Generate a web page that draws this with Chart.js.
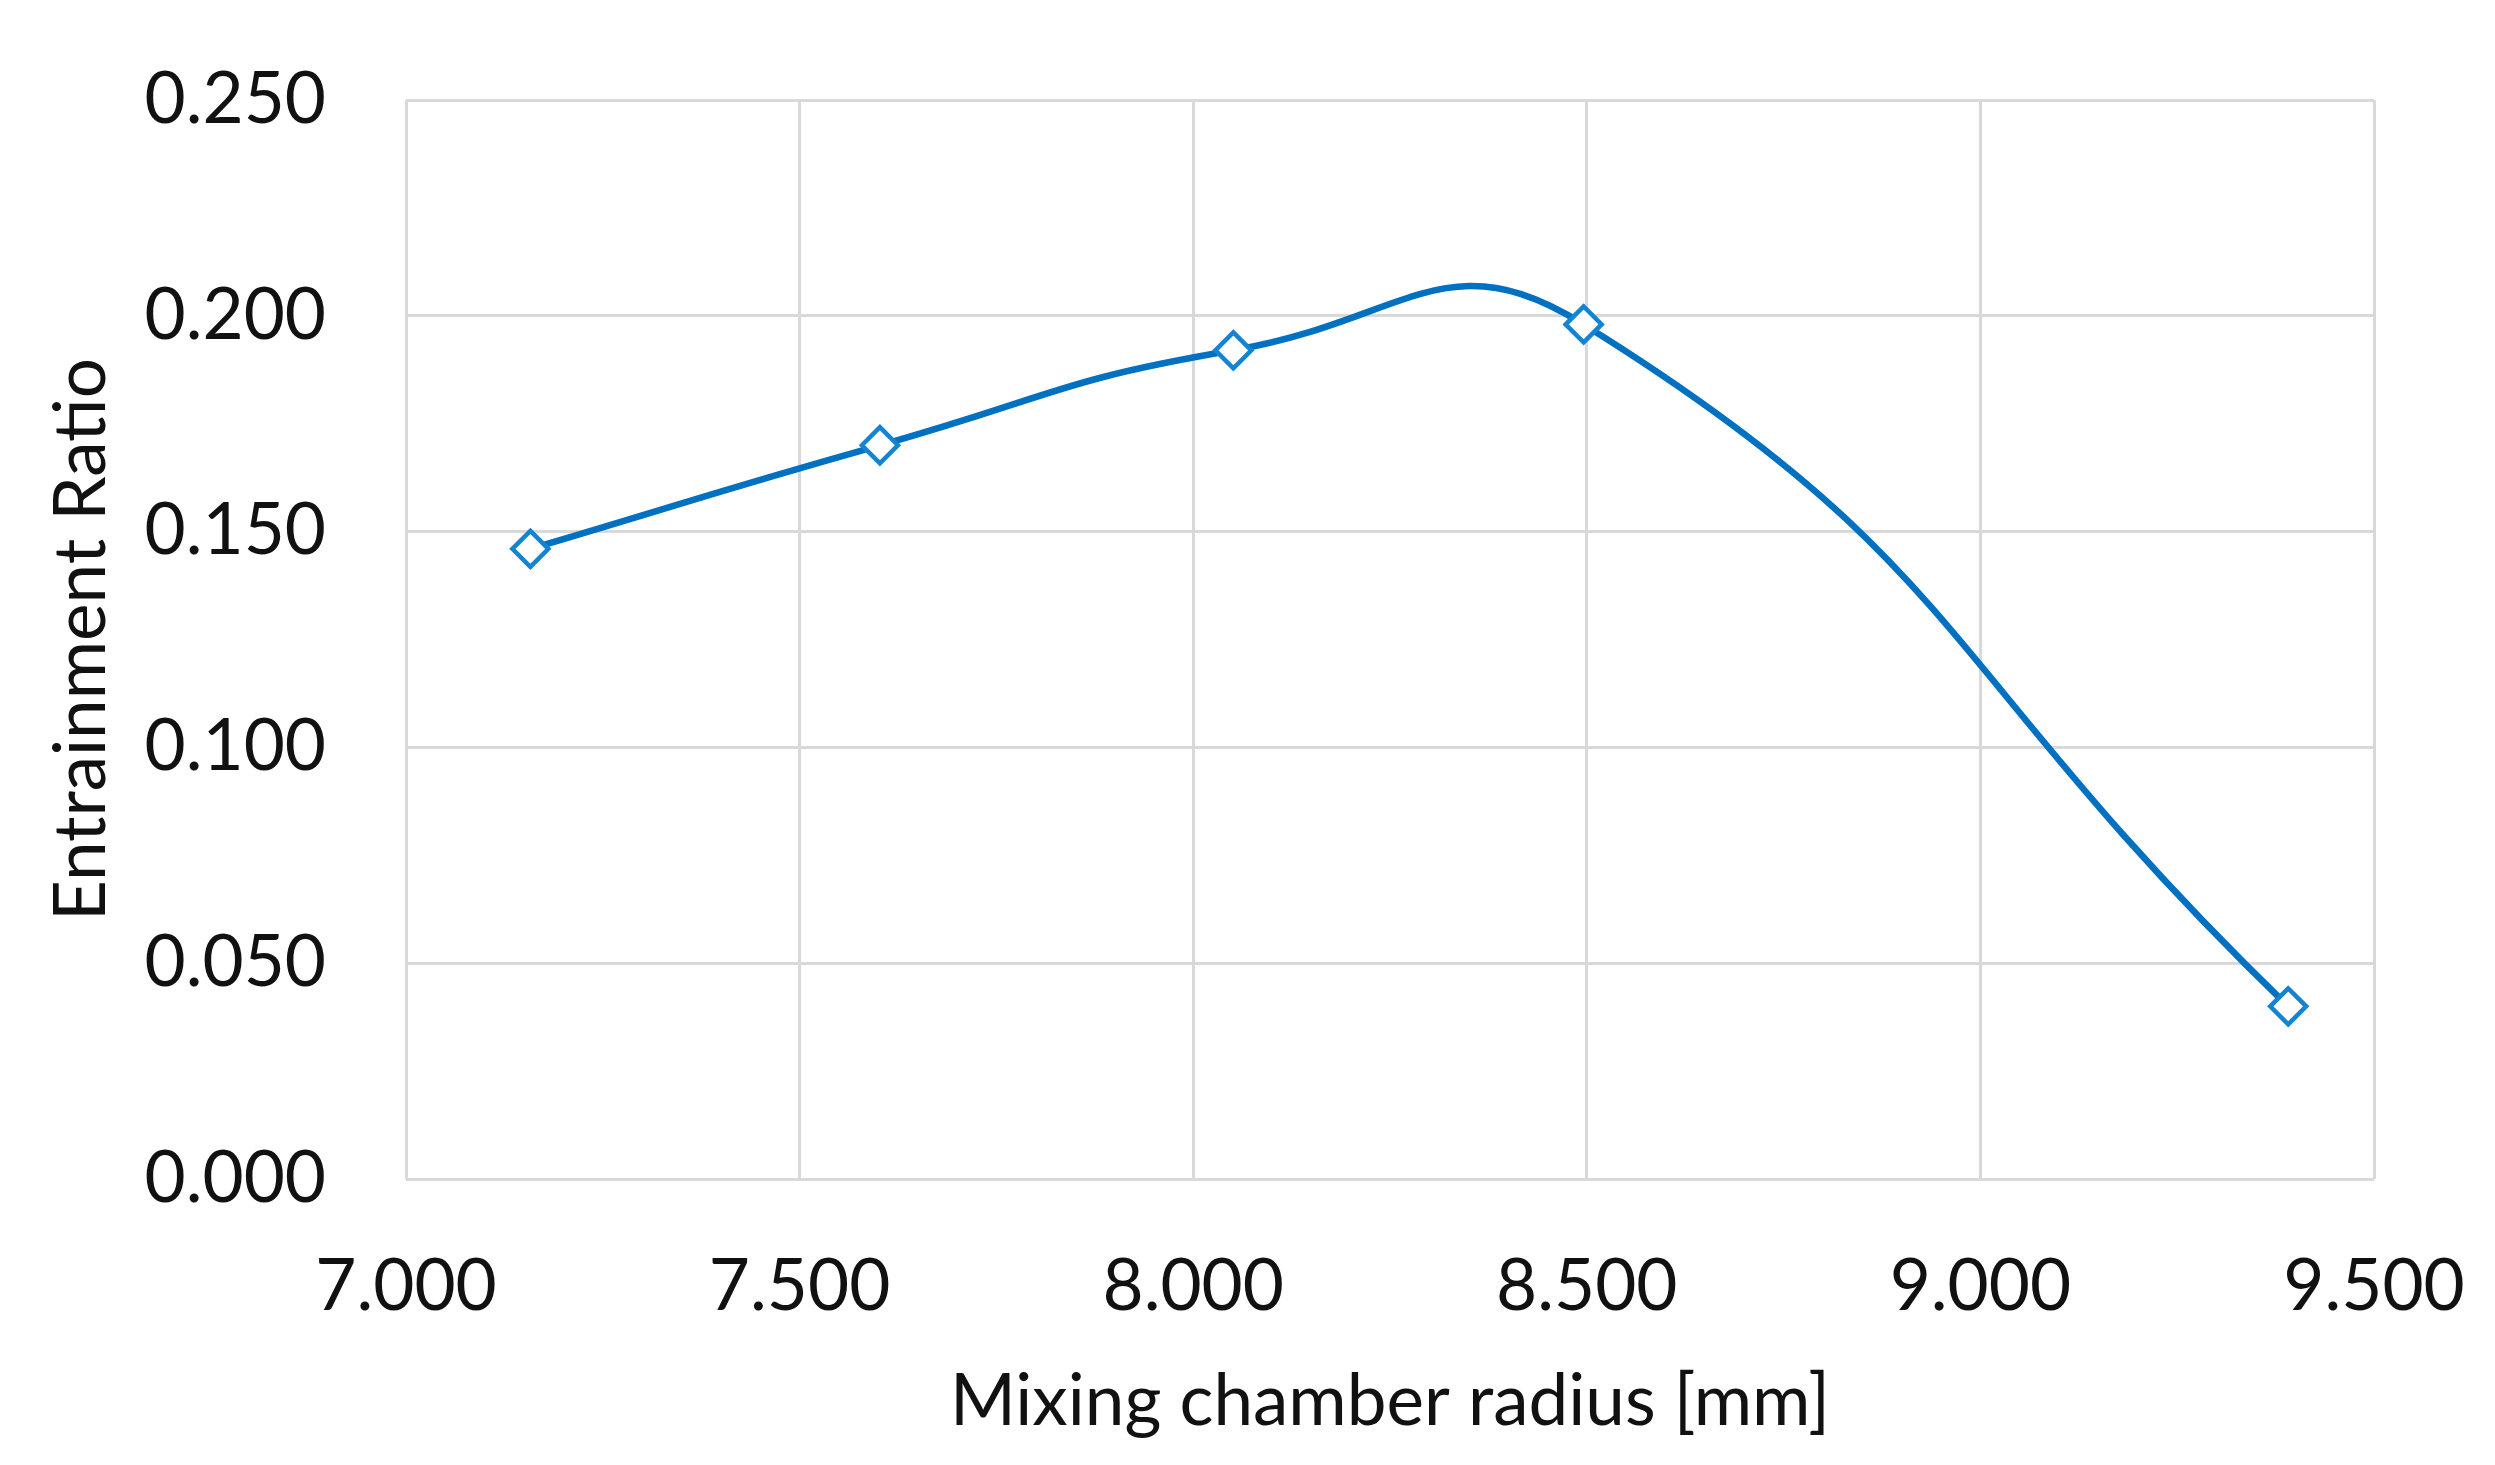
<!DOCTYPE html>
<html>
<head>
<meta charset="utf-8">
<script src="https://cdn.jsdelivr.net/npm/chart.js@4"></script>
<style>
html,body{margin:0;padding:0;background:#fff;overflow:hidden;}
#wrap{width:2495px;height:1465px;}
</style>
</head>
<body>
<div id="wrap"><canvas id="c" width="2495" height="1465"></canvas></div>
<script>
const radius = [7.158, 7.602, 8.051, 8.496, 9.391];
const entrainment = [0.146, 0.170, 0.192, 0.198, 0.040];
const xTickValues = [7.0, 7.5, 8.0, 8.5, 9.0, 9.5];
const yTickValues = [0.000, 0.050, 0.100, 0.150, 0.200, 0.250];
const xTitle = 'Mixing chamber radius [mm]';
const yTitle = 'Entrainment Ratio';

const points = radius.map((x, i) => ({x: x, y: entrainment[i]}));
const FONT = 'Lato';
const gridColor = '#d9d9d9';

new Chart(document.getElementById('c'), {
  type: 'line',
  data: {
    datasets: [{
      data: points,
      borderColor: '#0070C0',
      borderWidth: 6.5,
      tension: 0.5,
      pointStyle: 'rectRot',
      pointRadius: 18,
      pointBorderWidth: 4.5,
      pointBackgroundColor: '#ffffff',
      pointBorderColor: '#1384d1',
      fill: false
    }]
  },
  options: {
    responsive: false,
    animation: false,
    devicePixelRatio: 1,
    layout: {padding: {top: 100, right: 121, bottom: 0, left: 0}},
    plugins: {legend: {display: false}, tooltip: {enabled: false}},
    scales: {
      x: {
        type: 'linear',
        min: xTickValues[0],
        max: xTickValues[xTickValues.length - 1],
        afterBuildTicks: (ax) => { ax.ticks = xTickValues.map(v => ({value: v})); },
        afterFit: (ax) => { ax.height = 1465 - 1179; ax.paddingLeft = 0; ax.paddingRight = 0; },
        grid: {color: gridColor, lineWidth: 3, drawTicks: false},
        border: {display: false},
        ticks: {
          padding: 66,
          color: '#111',
          font: {family: FONT, size: 71},
          callback: (v) => Number(v).toFixed(3),
          maxRotation: 0
        },
        title: {
          display: true,
          text: xTitle,
          color: '#111',
          font: {family: FONT, size: 71},
          padding: {top: 0, bottom: 20}
        }
      },
      y: {
        type: 'linear',
        min: yTickValues[0],
        max: yTickValues[yTickValues.length - 1],
        afterBuildTicks: (ax) => { ax.ticks = yTickValues.map(v => ({value: v})); },
        afterFit: (ax) => { ax.width = 406; ax.paddingTop = 0; ax.paddingBottom = 0; },
        grid: {color: gridColor, lineWidth: 3, drawTicks: false},
        border: {display: false},
        ticks: {
          padding: 80,
          color: '#111',
          font: {family: FONT, size: 71},
          callback: (v) => Number(v).toFixed(3)
        },
        title: {
          display: true,
          text: yTitle,
          color: '#111',
          font: {family: FONT, size: 71},
          padding: {top: 40, bottom: 0}
        }
      }
    }
  }
});
</script>
</body>
</html>
